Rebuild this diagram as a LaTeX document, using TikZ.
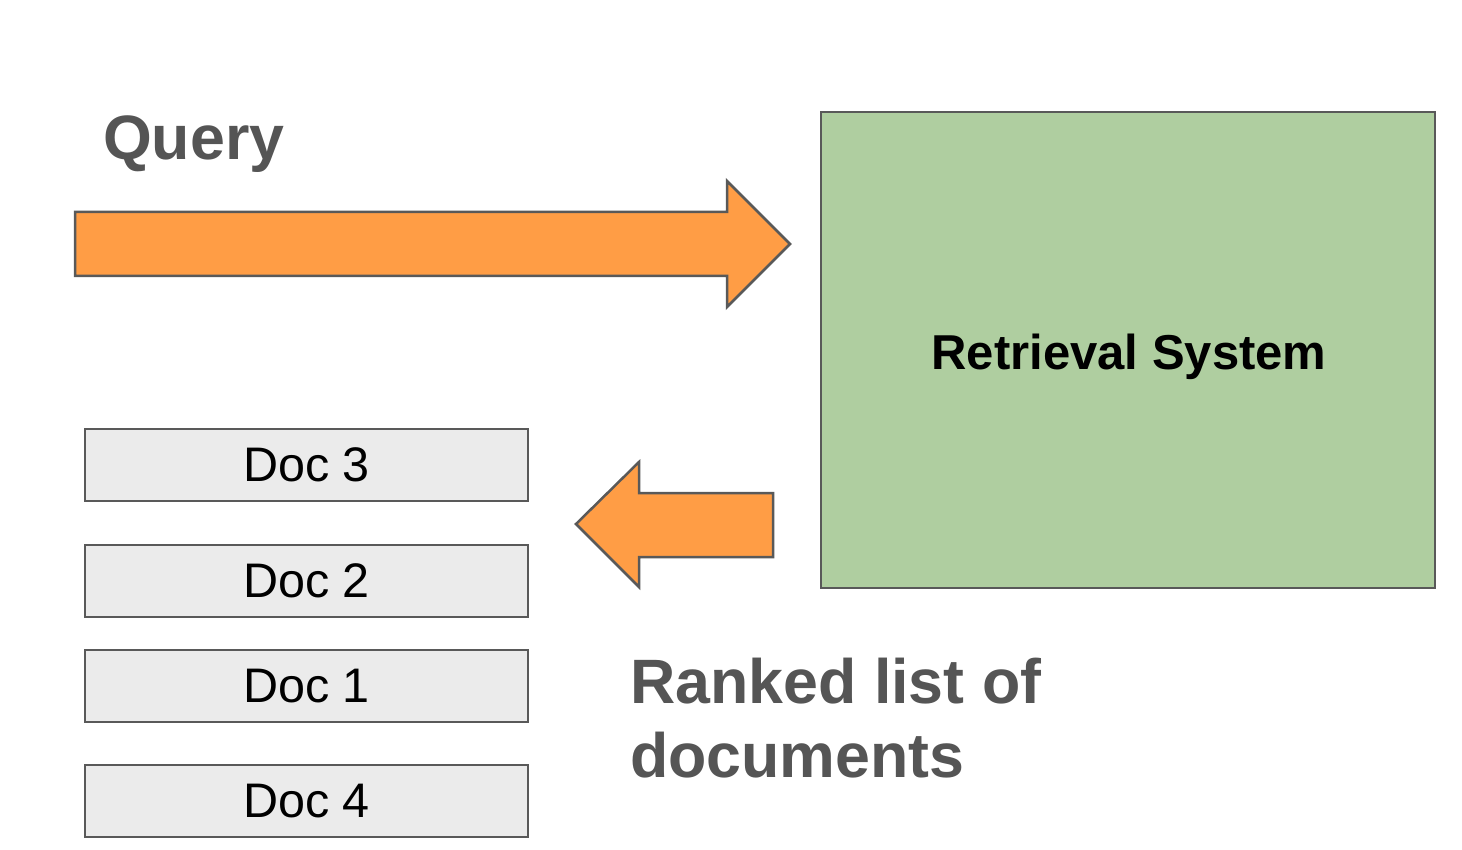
\documentclass[tikz,border=0pt]{standalone}
\usepackage{fontspec}
\setmainfont{Liberation Sans}
\definecolor{arroworange}{HTML}{FF9D45}
\definecolor{edgegray}{HTML}{595959}
\definecolor{sysgreen}{HTML}{AFCEA0}
\definecolor{docgray}{HTML}{EBEBEB}
\definecolor{textgray}{HTML}{555555}
\tikzset{
  blockarrow/.style={fill=arroworange, draw=edgegray, line width=2.5pt, line join=miter},
  sysbox/.style={fill=sysgreen, draw=edgegray, line width=2.6pt},
  docbox/.style={fill=docgray, draw=edgegray, line width=2.4pt, minimum width=443pt, minimum height=72pt, inner sep=0pt, font=\fontsize{48.5}{56}\selectfont, text=black},
  bigtitle/.style={font=\bfseries\fontsize{62.7}{74}\selectfont, text=textgray, inner sep=0pt},
}
\begin{document}
\begin{tikzpicture}[x=1pt, y=-1pt]
\useasboundingbox (0,0) rectangle (1462,850);
\fill[white] (0,0) rectangle (1462,850);

% Query arrow
\draw[blockarrow] (75,212) -- (727,212) -- (727,181) -- (790,244) -- (727,307) -- (727,276) -- (75,276) -- cycle;
\node[bigtitle, anchor=base west] (query) at (103,160) {Query};

% Retrieval system
\draw[sysbox] (821,112) rectangle (1435,588);
\node[font=\bfseries\fontsize{49}{58}\selectfont, inner sep=0pt, anchor=base] (sys) at (1129,369) {Retrieval System};

% Return arrow
\draw[blockarrow] (773,493) -- (639,493) -- (639,462) -- (576,524) -- (639,587) -- (639,557) -- (773,557) -- cycle;

% Documents
\node[docbox] (d3) at (306.5,465) {\raisebox{-1pt}{Doc 3}};
\node[docbox] (d2) at (306.5,581) {\raisebox{-1pt}{Doc 2}};
\node[docbox] (d1) at (306.5,686) {\raisebox{-1pt}{Doc 1}};
\node[docbox] (d4) at (306.5,801) {\raisebox{-1pt}{Doc 4}};

% Label
\node[bigtitle, anchor=base west] (ranked1) at (630,703) {Ranked list of};
\node[bigtitle, anchor=base west] (ranked2) at (630,777) {documents};
\end{tikzpicture}
\end{document}
